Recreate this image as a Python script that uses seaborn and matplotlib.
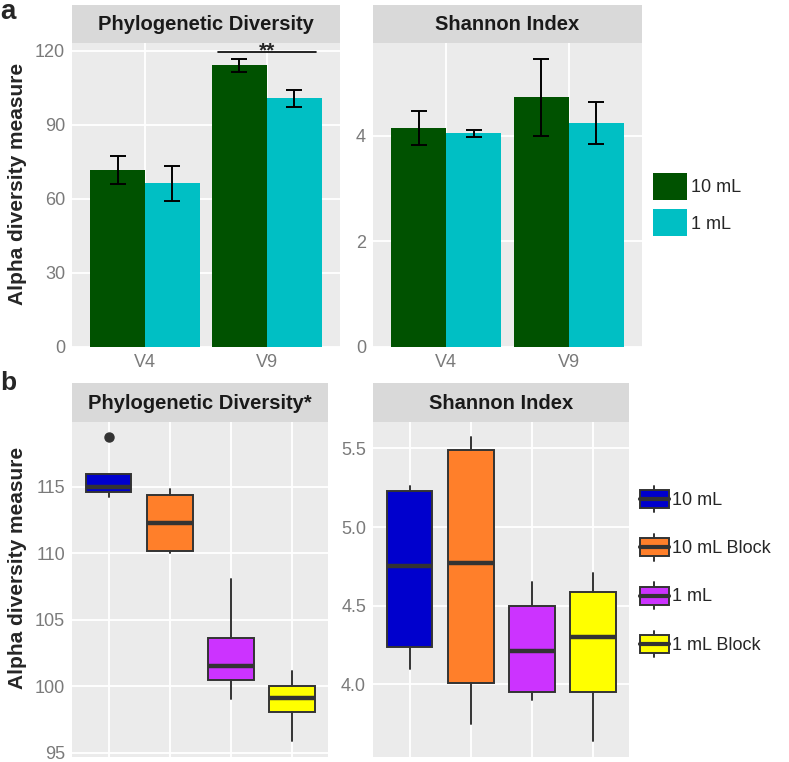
import pandas as pd
import numpy as np
import matplotlib
matplotlib.use('Agg')
import matplotlib.pyplot as plt
import seaborn as sns
from matplotlib.patches import Patch, Rectangle
from matplotlib.lines import Line2D
from matplotlib.legend_handler import HandlerBase

# ---------------------------------------------------------------- data (a)
regions = ['V4', 'V9']
volumes = ['10 mL', '1 mL']
pd_mean_10 = [71.8, 114.2]
pd_err_10 = [5.8, 2.7]
pd_mean_1 = [66.3, 100.8]
pd_err_1 = [7.1, 3.5]
sh_mean_10 = [4.15, 4.73]
sh_err_10 = [0.33, 0.73]
sh_mean_1 = [4.05, 4.25]
sh_err_1 = [0.07, 0.40]

# ---------------------------------------------------------------- data (b)
groups = ['10 mL', '10 mL Block', '1 mL', '1 mL Block']
pd_med = [114.97, 112.3, 101.5, 99.15]
pd_q1 = [114.6, 110.2, 100.45, 98.07]
pd_q3 = [115.98, 114.4, 103.6, 100.0]
pd_lo = [114.2, 110.0, 99.05, 95.9]
pd_hi = [115.98, 114.85, 108.1, 101.15]
pd_out = [[118.75], [], [], []]

sh_med = [4.75, 4.77, 4.21, 4.30]
sh_q1 = [4.24, 4.01, 3.95, 3.95]
sh_q3 = [5.23, 5.49, 4.50, 4.585]
sh_lo = [4.10, 3.75, 3.90, 3.64]
sh_hi = [5.26, 5.57, 4.65, 4.71]
sh_out = [[], [], [], []]

bar_colors = {'10 mL': '#005200', '1 mL': '#00BFC4'}
box_colors = ['#0000CD', '#FF7F2A', '#CC33FF', '#FFFF00']

sns.set_style('white')
plt.rcParams['font.family'] = ['Liberation Sans', 'DejaVu Sans']

W, H = 789, 762
fig = plt.figure(figsize=(W / 100, H / 100), dpi=100)

EDGE = '#333333'
TICK_COL = '#7a7a7a'


def px_axes(x0, y0, x1, y1):
    return fig.add_axes([x0 / W, 1 - y1 / H, (x1 - x0) / W, (y1 - y0) / H])


def strip(x0, y0, x1, y1, text):
    s = px_axes(x0, y0, x1, y1)
    s.set_facecolor('#D9D9D9')
    s.set_xticks([])
    s.set_yticks([])
    for sp in s.spines.values():
        sp.set_visible(False)
    s.text(0.5, 0.48, text, ha='center', va='center', fontsize=14.5,
           fontweight='bold', color='#1a1a1a', transform=s.transAxes)


def style_panel(ax, yticks, ylim, fmt=None):
    ax.set_facecolor('#EBEBEB')
    for sp in ax.spines.values():
        sp.set_visible(False)
    ax.set_axisbelow(True)
    ax.grid(True, color='white', linewidth=1.3)
    ax.set_yticks(yticks)
    if fmt:
        ax.set_yticklabels([fmt % v for v in yticks])
    ax.set_ylim(*ylim)
    ax.set_xlabel('')
    ax.set_ylabel('')
    ax.tick_params(axis='both', labelsize=13, colors=TICK_COL, length=3,
                   width=0.8, pad=2, color='#555555')


################################################################################################
def bar_panel(ax, m10, e10, m1, e1, yticks, ylim):
    df = pd.DataFrame({
        'region': regions * 2,
        'volume': [volumes[0]] * 2 + [volumes[1]] * 2,
        'value': m10 + m1,
        'err': e10 + e1,
    })
    sns.barplot(data=df, x='region', y='value', hue='volume', order=regions,
                hue_order=volumes, palette=bar_colors, width=0.9, saturation=1,
                errorbar=None, legend=False, linewidth=0, ax=ax)
    for cont, vol in zip(ax.containers, volumes):
        sub = df[df['volume'] == vol]
        xs = [p.get_x() + p.get_width() / 2 for p in cont.patches]
        ax.errorbar(xs, sub['value'], yerr=sub['err'], fmt='none', ecolor='black',
                    elinewidth=1.4, capsize=5.5, capthick=1.4, zorder=5)
    style_panel(ax, yticks, ylim)
    ax.set_xlim(-0.6, 1.6)


def box_panel(ax, med, q1, q3, lo, hi, out, yticks, ylim, fmt=None):
    stats = [dict(med=m, q1=a, q3=b, whislo=l, whishi=h, fliers=f, label=g)
             for m, a, b, l, h, f, g in zip(med, q1, q3, lo, hi, out, groups)]
    bp = ax.bxp(stats, positions=range(len(groups)), widths=0.75, patch_artist=True,
                showcaps=False,
                boxprops=dict(edgecolor=EDGE, linewidth=1.4),
                medianprops=dict(color=EDGE, linewidth=3.2),
                whiskerprops=dict(color=EDGE, linewidth=1.4),
                flierprops=dict(marker='o', markerfacecolor=EDGE, markeredgecolor=EDGE,
                                markersize=6.5))
    for patch, c in zip(bp['boxes'], box_colors):
        patch.set_facecolor(c)
    style_panel(ax, yticks, ylim, fmt)
    ax.set_xlim(-0.6, len(groups) - 0.4)
    ax.set_xticks(range(len(groups)))
    ax.tick_params(axis='x', length=0, labelbottom=False)


class BoxHandler(HandlerBase):
    def create_artists(self, legend, orig_handle, xd, yd, width, height, fontsize, trans):
        x0, y0 = -xd, -yd
        cx, cy = x0 + width / 2, y0 + height / 2
        whisk = Line2D([cx, cx], [y0, y0 + height], color=EDGE, lw=1.4, transform=trans)
        box = Rectangle((x0, y0 + 0.17 * height), width, 0.66 * height,
                        facecolor=orig_handle.get_facecolor(), edgecolor=EDGE, lw=1.4,
                        transform=trans)
        med = Line2D([x0, x0 + width], [cy, cy], color=EDGE, lw=3, transform=trans)
        return [whisk, box, med]


# ---------------------------------------------------------------- panel a
ax1 = px_axes(72, 43, 340, 347)
bar_panel(ax1, pd_mean_10, pd_err_10, pd_mean_1, pd_err_1, [0, 30, 60, 90, 120], (0, 123.2))
strip(72, 5, 340, 43, 'Phylogenetic Diversity')
# significance bar over V9
v9 = regions.index('V9')
ax1.plot([v9 - 0.4, v9 + 0.4], [119.6, 119.6], color='black', lw=1.2)
ax1.text(v9, 117.9, '**', ha='center', va='baseline', fontsize=15, fontweight='bold')

ax2 = px_axes(373, 43, 642, 347)
bar_panel(ax2, sh_mean_10, sh_err_10, sh_mean_1, sh_err_1, [0, 2, 4], (0, 5.76))
strip(373, 5, 642, 43, 'Shannon Index')

fig.legend(handles=[Patch(facecolor=bar_colors[v], edgecolor='none') for v in volumes],
           labels=volumes, loc='center left', bbox_to_anchor=(653 / W, 1 - 204.5 / H),
           frameon=False, fontsize=13, handlelength=1.9, handleheight=1.9,
           handletextpad=0.2, labelspacing=0.55, borderpad=0, borderaxespad=0)

# ---------------------------------------------------------------- panel b
ax3 = px_axes(72, 421.7, 328.3, 756.7)
box_panel(ax3, pd_med, pd_q1, pd_q3, pd_lo, pd_hi, pd_out,
          [95, 100, 105, 110, 115], (94.7, 119.9))
strip(72, 383, 328.3, 421.7, 'Phylogenetic Diversity*')

ax4 = px_axes(373, 421.7, 629.3, 756.7)
box_panel(ax4, sh_med, sh_q1, sh_q3, sh_lo, sh_hi, sh_out,
          [4.0, 4.5, 5.0, 5.5], (3.54, 5.67), fmt='%.1f')
strip(373, 383, 629.3, 421.7, 'Shannon Index')

fig.legend(handles=[Patch(facecolor=c) for c in box_colors], labels=groups,
           handler_map={Patch: BoxHandler()}, loc='center left',
           bbox_to_anchor=(640 / W, 1 - 571.5 / H), frameon=False, fontsize=13,
           handlelength=1.6, handleheight=1.9, handletextpad=0.2, labelspacing=1.2,
           borderpad=0, borderaxespad=0)

# ---------------------------------------------------------------- labels
for yc in [183.5, 568]:
    fig.text(17.5 / W, 1 - yc / H, 'Alpha diversity measure', rotation=90, ha='center',
             va='center', fontsize=15, fontweight='bold')
fig.text(0.5 / W, 1 - 19 / H, 'a', fontsize=20, fontweight='bold', va='baseline')
fig.text(0.5 / W, 1 - 390 / H, 'b', fontsize=19, fontweight='bold', va='baseline')

fig.savefig('out.png', dpi=100)
